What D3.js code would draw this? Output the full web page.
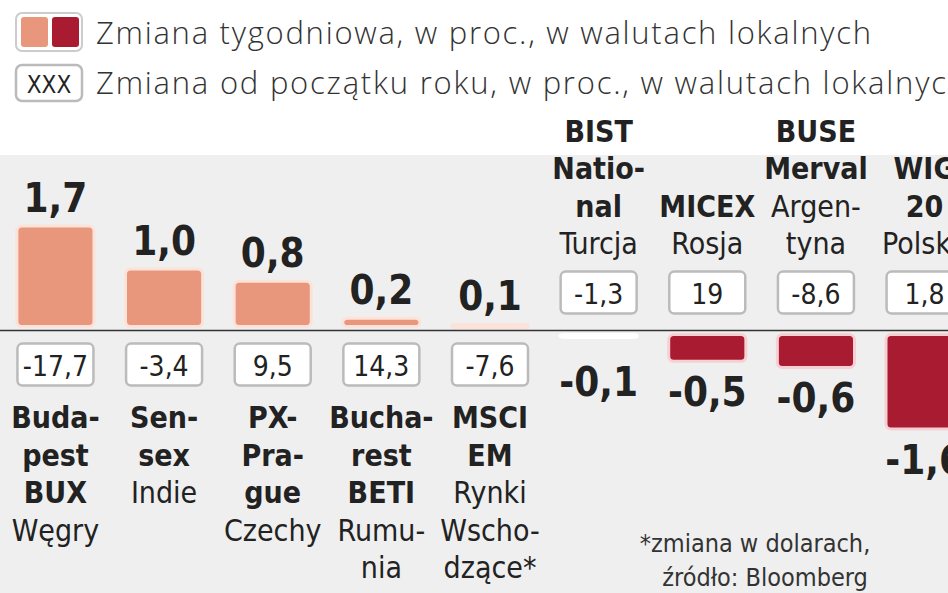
<!DOCTYPE html>
<html lang="pl">
<head>
<meta charset="UTF-8">
<title>Giełdy</title>
<style>
  body { margin: 0; background: #fff; }
  svg { display: block; font-family: "Liberation Sans Narrow", "DejaVu Sans Condensed", "Roboto", sans-serif; }
</style>
</head>
<body>
<svg width="948" height="593"></svg>
<script src="https://cdn.jsdelivr.net/npm/d3@7.8.5/dist/d3.min.js"></script>
<script>
const weekly = [1.7, 1.0, 0.8, 0.2, 0.1, -0.1, -0.5, -0.6, -1.6]
const ytd = ['-17,7', '-3,4', '9,5', '14,3', '-7,6', '-1,3', '19', '-8,6', '1,8']
const names = [
  ['Buda-', 'pest', 'BUX'], ['Sen-', 'sex'], ['PX-', 'Pra-', 'gue'], ['Bucha-', 'rest', 'BETI'],
  ['MSCI', 'EM'], ['BIST', 'Natio-', 'nal'], ['MICEX'], ['BUSE', 'Merval'], ['WIG', '20']
]
const countries = [
  ['Węgry'], ['Indie'], ['Czechy'], ['Rumu-', 'nia'], ['Rynki', 'Wscho-', 'dzące*'],
  ['Turcja'], ['Rosja'], ['Argen-', 'tyna'], ['Polska']
]

const svg = d3.select('svg')
const fmt = v => String(v.toFixed(1)).replace('.', ',')

svg.append('rect').attr('x', 0).attr('y', 155).attr('width', 948).attr('height', 438).attr('fill', '#efefef')

// legend
const leg = svg.append('g')
leg.append('rect').attr('x', 16).attr('y', 13).attr('width', 66).attr('height', 38).attr('rx', 6)
  .attr('fill', '#fff').attr('stroke', '#ccc').attr('stroke-width', 2)
leg.append('rect').attr('x', 21).attr('y', 17).attr('width', 27).attr('height', 30).attr('rx', 3).attr('fill', '#e8977c')
leg.append('rect').attr('x', 52).attr('y', 17).attr('width', 27).attr('height', 30).attr('rx', 3).attr('fill', '#a81b30')
leg.append('rect').attr('x', 16).attr('y', 65).attr('width', 66).attr('height', 36).attr('rx', 6)
  .attr('fill', '#fff').attr('stroke', '#bbb').attr('stroke-width', 2.5)
leg.append('text').attr('x', 49).attr('y', 93).attr('text-anchor', 'middle').attr('font-size', 24).attr('fill', '#222').text('XXX')
leg.append('text').attr('x', 96).attr('y', 44).attr('font-size', 31).attr('fill', '#333').attr('font-family', 'Open Sans, sans-serif')
  .attr('font-weight', 300).attr('textLength', 775).text('Zmiana tygodniowa, w proc., w walutach lokalnych')
leg.append('text').attr('x', 96).attr('y', 94).attr('font-size', 31).attr('fill', '#333').attr('font-family', 'Open Sans, sans-serif')
  .attr('font-weight', 300).attr('textLength', 870).text('Zmiana od początku roku, w proc., w walutach lokalnych')

const x = d3.scaleBand().domain(d3.range(weekly.length)).range([6, 974]).paddingInner(0.29).paddingOuter(0.1)
const y = d3.scaleLinear().domain([-1.6, 1.7]).range([429, 226])
const y0 = y(0)

svg.append('line').attr('x1', 0).attr('x2', 948).attr('y1', y0).attr('y2', y0).attr('stroke', '#333').attr('stroke-width', 1.5)

const col = svg.selectAll('g.col').data(weekly).join('g').attr('class', 'col')
  .attr('transform', (d, i) => `translate(${x(i) + x.bandwidth() / 2},0)`)

col.append('rect')
  .attr('x', -x.bandwidth() / 2).attr('width', x.bandwidth())
  .attr('y', d => d >= 0 ? y(d) : y0 + 4)
  .attr('height', d => Math.max(3, Math.abs(y(d) - y0) - 4))
  .attr('rx', 5)
  .attr('fill', d => d >= 0 ? '#e8977c' : (d > -0.2 ? '#fff' : '#a81b30'))
  .attr('stroke', d => d >= 0 ? '#fbe3da' : (d > -0.2 ? '#fff' : '#f6d0d3')).attr('stroke-width', 3)

col.append('text').attr('text-anchor', 'middle').attr('font-weight', 'bold').attr('font-size', 40).attr('fill', '#222')
  .attr('y', d => d >= 0 ? y(d) - 14 : Math.max(y(d), y0 + 20) + 45)
  .text(fmt)

// year-to-date boxes
col.append('rect').attr('x', -38).attr('width', 76).attr('height', 42).attr('rx', 5)
  .attr('y', d => d >= 0 ? y0 + 13 : y0 - 59)
  .attr('fill', '#fff').attr('stroke', '#bbb').attr('stroke-width', 2.5)
col.append('text').attr('text-anchor', 'middle').attr('font-size', 28).attr('fill', '#222')
  .attr('y', d => d >= 0 ? y0 + 45 : y0 - 27)
  .text((d, i) => ytd[i])

// names
const lh = 37.5
col.each(function (d, i) {
  const g = d3.select(this)
  const lines = names[i].map(t => ({ t, b: true })).concat(countries[i].map(t => ({ t, b: false })))
  const start = d >= 0 ? 428 : 254 - (lines.length - 1) * lh
  g.selectAll('text.n').data(lines).join('text').attr('class', 'n')
    .attr('text-anchor', 'middle').attr('font-size', 30).attr('fill', '#222')
    .attr('font-weight', l => l.b ? 'bold' : 'normal')
    .attr('y', (l, k) => start + k * lh)
    .text(l => l.t)
})

svg.append('text').attr('x', 755).attr('y', 552).attr('text-anchor', 'middle').attr('font-size', 25).attr('fill', '#333').text('*zmiana w dolarach,')
svg.append('text').attr('x', 765).attr('y', 586).attr('text-anchor', 'middle').attr('font-size', 25).attr('fill', '#333').text('źródło: Bloomberg')
</script>
</body>
</html>
